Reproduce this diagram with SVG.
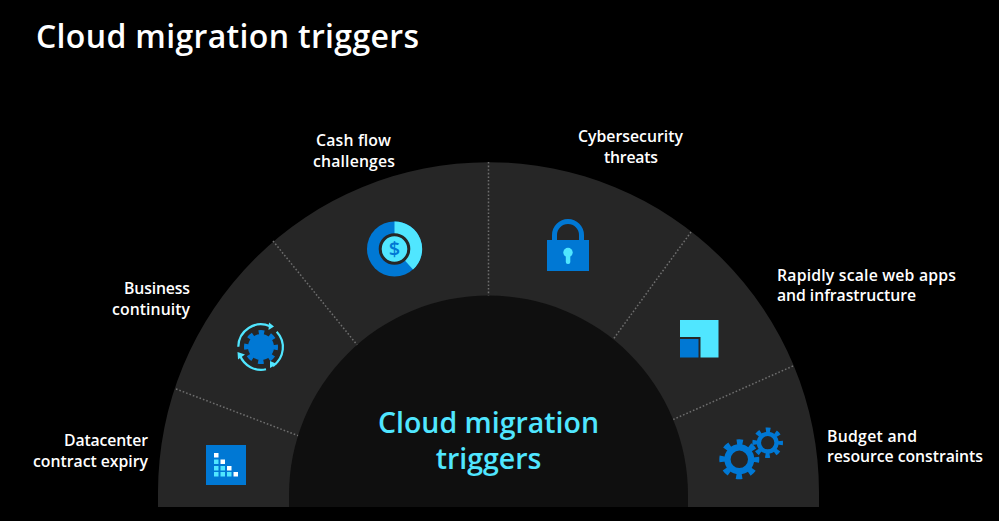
<svg xmlns="http://www.w3.org/2000/svg" width="999" height="521" viewBox="0 0 999 521">
<style>
text{font-family:"Open Sans","Noto Sans",sans-serif;fill:#fff;font-weight:600}
.l{font-size:15.800px}
.m{text-anchor:middle}
.e{text-anchor:end}
.sep{stroke:#6e6e6e;stroke-width:1.500;stroke-dasharray:1.600 2;fill:none}
.b{fill:#0078d4}.c{fill:#50e6ff}
.ring{fill:none;stroke:#50e6ff;stroke-width:2.200}
.gear{fill:none;stroke:#0078d4}
.hubt{font-size:28.500px;fill:#50e6ff}
</style>
<rect width="999" height="521" fill="#000"/>
<text id="title" x="36" y="48" font-size="32" textLength="383">Cloud migration triggers</text>
<g id="band"><path d="M158 507V492A330.500 330 0 0 1 819 492V507Z" fill="#262626"/></g>
<g id="connectors">
<path class="sep" d="M488.500 162V296"/>
<path class="sep" d="M273 241L358 346"/>
<path class="sep" d="M691 232L612 341"/>
<path class="sep" d="M793 366L672 420"/>
<path class="sep" d="M176 389L299 436"/>
</g>
<g id="hub"><path d="M289 507V495A199.500 199.500 0 0 1 688 495V507Z" fill="#0f0f0f"/>
<text class="m hubt" x="488.500" y="433">Cloud migration</text>
<text class="m hubt" x="488.500" y="469">triggers</text></g>
<g id="datacenter">
<text x="148" y="446" class="l e" textLength="84">Datacenter</text>
<text x="148" y="467" class="l e" textLength="115">contract expiry</text>
<rect class="b" x="206" y="445" width="40" height="40"/>
<path fill="#fff" d="M214 453h4.500v4.500h-4.500zM220.500 459.500h4.500v4.500h-4.500zM227 466h4.500v4.500h-4.500zM233.500 472h4.500v4.500h-4.500z"/>
<path class="c" d="M214 459.500h4.500v4.500h-4.500zM214 466h4.500v4.500h-4.500zM214 472h4.500v4.500h-4.500zM220.500 466h4.500v4.500h-4.500zM220.500 472h4.500v4.500h-4.500zM227 472h4.500v4.500h-4.500z"/>
</g>
<g id="continuity">
<text x="190" y="294" class="l e" textLength="66">Business</text>
<text x="190" y="315" class="l e" textLength="78">continuity</text>
<circle class="b" cx="261" cy="347" r="13"/>
<circle class="gear" cx="261" cy="347" r="14.500" stroke-width="5" stroke-dasharray="5.500 5.890" stroke-dashoffset="2.750"/>
<path class="ring" d="M238.300 346.700A22.700 22.700 0 0 1 270 326.200"/>
<path class="ring" d="M276.700 331.700A22.700 22.700 0 0 1 273 366"/>
<path class="ring" d="M266 369.300A22.700 22.700 0 0 1 240 355.500"/>
<path class="c" d="M274 326.500L269 322.500L268.500 330ZM270 368L270 361L277 364ZM237.500 352L238 359.500L245 354.500Z"/>
</g>
<g id="cashflow">
<text class="l m" x="353.500" y="146" textLength="75">Cash flow</text>
<text class="l m" x="354" y="167" textLength="82">challenges</text>
<circle class="b" cx="394.500" cy="249" r="27.500"/>
<path class="c" d="M394.500 221.500A27.500 27.500 0 0 1 413 269.500L394.500 249Z"/>
<circle class="c" cx="394.500" cy="249" r="14.300" stroke="#262626" stroke-width="3"/>
<text x="394.500" y="256" font-size="20" text-anchor="middle" style="fill:#0078d4">$</text>
</g>
<g id="cyber">
<text class="l m" x="630.500" y="142" textLength="105">Cybersecurity</text>
<text class="l m" x="631" y="163" textLength="54">threats</text>
<path d="M554.500 241V235A13.500 13.500 0 0 1 581.500 235V241" fill="none" stroke="#0078d4" stroke-width="5"/>
<rect class="b" x="547" y="240" width="42" height="31"/>
<circle class="c" cx="568" cy="252.500" r="4.700"/>
<rect class="c" x="565.800" y="252" width="4.500" height="12" rx="2"/>
</g>
<g id="scale">
<text x="777" y="281" class="l" textLength="179">Rapidly scale web apps</text>
<text x="777" y="301" class="l" textLength="139">and infrastructure</text>
<path class="c" d="M680 320H718.500V357.500H700.500V337H680Z"/>
<rect class="b" x="680" y="339" width="18.500" height="18.500"/>
</g>
<g id="budget">
<text x="827" y="441.500" class="l" textLength="90">Budget and</text>
<text x="827" y="462" class="l" textLength="156">resource constraints</text>
<circle class="gear" cx="739.300" cy="459.300" r="11.850" stroke-width="6.300"/>
<circle class="gear" cx="739.300" cy="459.300" r="17" stroke-width="6" stroke-dasharray="6 7.350" stroke-dashoffset="3"/>
<circle class="gear" cx="767.700" cy="442.700" r="8.800" stroke-width="4.300"/>
<circle class="gear" cx="767.700" cy="442.700" r="12.800" stroke-width="5" stroke-dasharray="4.500 5.550" stroke-dashoffset="2.250"/>
</g>
</svg>
